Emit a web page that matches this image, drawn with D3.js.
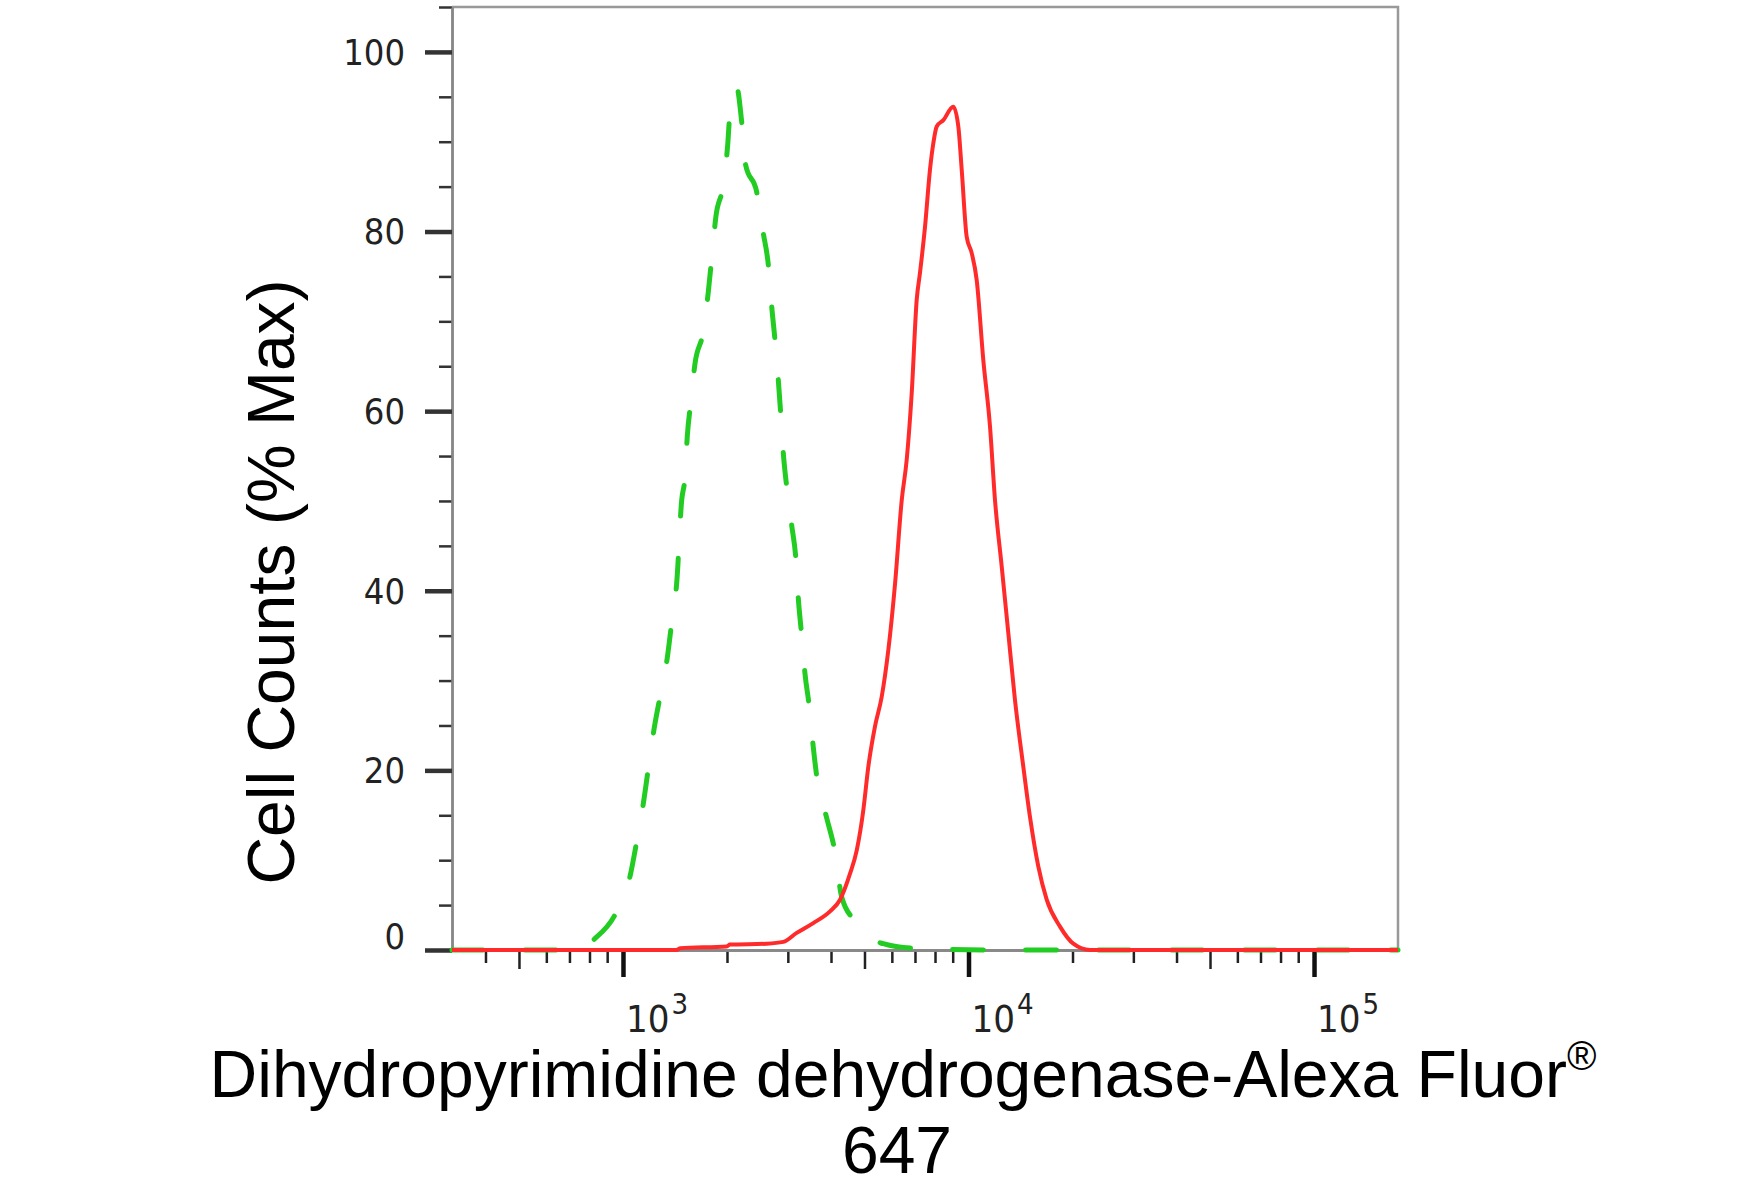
<script src="https://cdnjs.cloudflare.com/ajax/libs/d3/7.8.5/d3.min.js"></script>
<style>
  body { margin: 0; background: #fff; }
  svg { display: block; }
  .ticklab { font-family: 'Liberation Sans Narrow', 'DejaVu Sans Condensed', 'Liberation Sans', sans-serif; fill: #222; }
  .title { font-family: 'Liberation Sans', Arial, sans-serif; fill: #000; }
</style>
<body>
<script>

// control (isotype) histogram, dashed green
const controlIntensity = [320, 751, 820, 959, 1048, 1096, 1145, 1184, 1229, 1280, 1343, 1383, 1430, 1479, 1512, 1535, 1570, 1616, 1708, 1766, 1806, 1858, 1951, 2009, 2040, 2134, 2206, 2265, 2438, 2548, 2634, 2695, 2754, 2815, 2860, 2911, 2977, 3078, 3167, 3216, 3289, 3363, 3461, 3554, 3650, 3887, 4108, 4295, 4694, 5187, 5668, 6921, 12340, 175000];
const controlPct = [0, 0, 1.1, 4.3, 8.2, 12.1, 16.3, 20.2, 24.5, 28.2, 32.5, 36.4, 40.8, 50.1, 52.7, 57.2, 60.9, 65.3, 68.9, 73.3, 77.0, 81.7, 85.2, 89.6, 93.2, 96.0, 92.2, 87.4, 84.4, 79.8, 76.3, 71.6, 67.9, 63.5, 59.8, 55.3, 51.6, 47.3, 43.4, 39.2, 35.1, 30.8, 27.1, 22.6, 18.9, 14.7, 10.9, 5.9, 3.2, 1.3, 0.7, 0.2, 0, 0];

// stained sample histogram, solid red
const sampleIntensity = [320, 1430, 1462, 1996, 2040, 2605, 2911, 3182, 3554, 3973, 4248, 4540, 4748, 4962, 5129, 5363, 5608, 5861, 6130, 6409, 6625, 6849, 7081, 7238, 7483, 7737, 7908, 8091, 8455, 9036, 9344, 9557, 9881, 10217, 10561, 11036, 11540, 11931, 12477, 13038, 13634, 14410, 15066, 15922, 16838, 18401, 20110, 22476, 175000];
const samplePct = [0, 0, 0.2, 0.4, 0.6, 0.7, 0.9, 1.9, 3.0, 4.3, 5.6, 8.5, 11.1, 15.6, 20.4, 24.9, 28.2, 33.4, 40.8, 50.1, 54.6, 62.0, 72.4, 75.4, 80.5, 86.9, 89.8, 91.7, 92.4, 93.9, 91.7, 86.9, 79.4, 77.6, 74.6, 65.7, 58.3, 50.1, 42.7, 35.3, 27.8, 20.4, 14.8, 9.3, 5.6, 2.6, 0.7, 0, 0];

const yMajorTicks = [0, 20, 40, 60, 80, 100];
const yMinorTicks = [5, 10, 15, 25, 30, 35, 45, 50, 55, 65, 70, 75, 85, 90, 95, 105];
const xDecades = [3, 4, 5];
const xMinorMult = [2, 3, 4, 6, 7, 8, 9];
const xMidMult = [5];

const xTitle = "Dihydropyrimidine dehydrogenase-Alexa Fluor";
const xTitleLine2 = "647";
const yTitle = "Cell Counts (% Max)";

const width = 1750, height = 1188;
const svg = d3.select("body").append("svg").attr("width", width).attr("height", height);

const x = d3.scaleLog().domain([320, 175000]).range([452, 1398]);
const y = d3.scaleLinear().domain([0, 105]).range([950, 7]);

// frame top + right
svg.append("path")
   .attr("d", `M${x.range()[0]},${y(105)}H${x.range()[1]}V${y(0)}`)
   .attr("fill", "none")
   .attr("stroke", "#999")
   .attr("stroke-width", 2.5);

// ticks lists
function inDomain(v) { return v >= x.domain()[0] && v <= x.domain()[1]; }
let xMinor = [], xMid = [];
[2, 3, 4].forEach(function(e) {
  xMinorMult.forEach(function(m) { if (inDomain(m * Math.pow(10, e))) xMinor.push(m * Math.pow(10, e)); });
  xMidMult.forEach(function(m) { if (inDomain(m * Math.pow(10, e))) xMid.push(m * Math.pow(10, e)); });
});
const xMajor = xDecades.map(function(e) { return Math.pow(10, e); });

function styleAxis(g, w, col) {
  g.select(".domain").attr("stroke", "#888").attr("stroke-width", 2.5);
  g.selectAll(".tick line").attr("stroke", col).attr("stroke-width", w);
}

// y axis
const yMinorAxis = svg.append("g").attr("transform", `translate(452,0)`)
   .call(d3.axisLeft(y).tickValues(yMinorTicks).tickSize(13).tickSizeOuter(0).tickFormat(""));
styleAxis(yMinorAxis, 2.5, "#333");
const yMajorAxis = svg.append("g").attr("transform", `translate(452,0)`)
   .call(d3.axisLeft(y).tickValues(yMajorTicks).tickSize(27).tickSizeOuter(0).tickPadding(20).tickFormat(d3.format("d")));
styleAxis(yMajorAxis, 4.5, "#333");
yMajorAxis.selectAll(".tick text")
   .attr("class", "ticklab")
   .attr("font-size", 36)
   .attr("dy", function(d) { return d === 0 ? "-0.05em" : "0.34em"; })
   .style("font-family", null);
yMajorAxis.attr("font-family", null).attr("font-size", null);

// x axis
const xMinorAxis = svg.append("g").attr("transform", `translate(0,950)`)
   .call(d3.axisBottom(x).tickValues(xMinor).tickSize(13).tickSizeOuter(0).tickFormat(""));
styleAxis(xMinorAxis, 2.5, "#222");
const xMidAxis = svg.append("g").attr("transform", `translate(0,950)`)
   .call(d3.axisBottom(x).tickValues(xMid).tickSize(19).tickSizeOuter(0).tickFormat(""));
styleAxis(xMidAxis, 2.5, "#222");
const xMajorAxis = svg.append("g").attr("transform", `translate(0,950)`)
   .call(d3.axisBottom(x).tickValues(xMajor).tickSize(27).tickSizeOuter(0).tickFormat(""));
styleAxis(xMajorAxis, 4.5, "#111");

const xlab = svg.append("g").selectAll("text").data(xDecades).join("text")
   .attr("class", "ticklab")
   .attr("x", function(e) { return x(Math.pow(10, e)) + 3; })
   .attr("y", 1032)
   .attr("font-size", 38);
xlab.append("tspan").text("10");
xlab.append("tspan").attr("dx", 2).attr("dy", -18).attr("font-size", 29).text(function(e) { return e; });

// histograms
const line = d3.line()
   .x(function(d) { return x(d[0]); })
   .y(function(d) { return y(d[1]); })
   .curve(d3.curveMonotoneX);

svg.append("path")
   .datum(d3.zip(controlIntensity, controlPct))
   .attr("d", line)
   .attr("fill", "none")
   .attr("stroke", "#22cc22")
   .attr("stroke-width", 5)
   .attr("stroke-linecap", "round")
   .attr("stroke-dasharray", "31,42");

svg.append("path")
   .datum(d3.zip(sampleIntensity, samplePct))
   .attr("d", line)
   .attr("fill", "none")
   .attr("stroke", "#ff2b2b")
   .attr("stroke-width", 4)
   .attr("stroke-linejoin", "round");

// titles
const xt = svg.append("text").attr("class", "title")
   .attr("x", 903).attr("y", 1097)
   .attr("text-anchor", "middle")
   .attr("font-size", 66);
xt.append("tspan").text(xTitle);
xt.append("tspan").attr("dy", -27).attr("font-size", 40).text("\u00AE");

svg.append("text").attr("class", "title")
   .attr("x", 897).attr("y", 1173)
   .attr("text-anchor", "middle")
   .attr("font-size", 66)
   .text(xTitleLine2);

svg.append("text").attr("class", "title")
   .attr("transform", "translate(294,582) rotate(-90)")
   .attr("text-anchor", "middle")
   .attr("font-size", 66)
   .text(yTitle);

</script>
</body>
